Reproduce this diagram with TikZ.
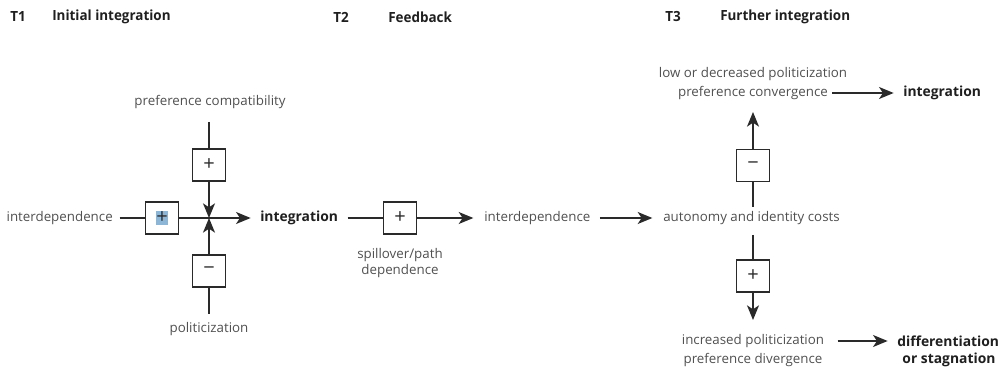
\documentclass[tikz,border=0pt]{standalone}
\usepackage{fontspec}
\setmainfont{Open Sans}
\usepackage{graphicx}
\usetikzlibrary{arrows.meta}
\definecolor{txt}{HTML}{505050}
\definecolor{ln}{HTML}{2A2A2A}
\definecolor{hl}{HTML}{8DB6D6}
\begin{document}
\begin{tikzpicture}[x=0.75pt,y=-0.75pt,
 lbl/.style={text=txt,font=\fontsize{10}{12}\selectfont,inner sep=0pt,align=center},
 blbl/.style={text=black!88,font=\fontsize{10.4}{12}\selectfont\bfseries,inner sep=0pt,align=center},
 hdr/.style={font=\fontsize{10.5}{12}\selectfont\bfseries,text=black!88,anchor=west,inner sep=0pt},
 sbox/.style={draw=ln,line width=0.8pt,fill=white,minimum width=24.5pt,minimum height=24pt,inner sep=0pt,text=ln,font=\fontsize{15}{16}\selectfont},
 conn/.style={draw=ln,line width=1.2pt},
 arr/.style={conn,-{Stealth[length=11pt,width=9pt,inset=3pt]}}]
\useasboundingbox (0,0) rectangle (1000,370);
% headers
\node[hdr] (t1) at (10,17) {\scalebox{0.96}[1]{T1}};
\node[hdr] (h1) at (52,17) {\scalebox{0.96}[1]{Initial integration}};
\node[hdr] (t2) at (333,17) {\scalebox{0.96}[1]{T2}};
\node[hdr] (h2) at (388,17) {\scalebox{0.96}[1]{Feedback}};
\node[hdr] (t3) at (665,17) {\scalebox{0.96}[1]{T3}};
\node[hdr] (h3) at (720,17) {\scalebox{0.96}[1]{Further integration}};
% T1
\node[lbl] (pc) at (210,102) {preference compatibility};
\coordinate (pctop) at (209,122);
\node[sbox] (bp) at (209,165) {+};
\coordinate (j) at (209,218);
\node[sbox] (bm) at (209,271) {−};
\coordinate (pobot) at (209,314);
\node[lbl] (po) at (209,329) {politicization};
\node[lbl,anchor=east] (int1) at (113,218) {interdependence};
\node[sbox] (bl) at (162,218) {\setlength{\fboxsep}{0.5pt}\colorbox{hl}{+}};
\node[blbl,anchor=west] (ig1) at (260,218) {integration};
\draw[conn,shorten <=5pt] (int1) -- (bl);
\draw[conn] (bl) -- (j);
\draw[arr,shorten >=7pt] (j) -- (ig1);
\draw[conn] (pctop) -- (bp);
\draw[arr] (bp) -- (j);
\draw[conn] (pobot) -- (bm);
\draw[arr] (bm) -- (j);
% T2
\node[sbox] (bs) at (400,218) {+};
\node[lbl] (sp) at (400,263) {spillover/path\\dependence};
\node[lbl,anchor=west] (int2) at (484,218) {interdependence};
\draw[conn,shorten <=7pt] (ig1) -- (bs);
\draw[arr,shorten >=8pt] (bs) -- (int2);
% T3
\node[lbl,anchor=west] (ac) at (663,218) {autonomy and identity costs};
\draw[arr,shorten <=7pt,shorten >=8pt] (int2) -- (ac);
\node[lbl] (lo1) at (753,74) {low or decreased politicization};
\node[lbl] (lo2) at (753,93) {preference convergence};
\node[blbl,anchor=west] (ig3) at (903,93) {integration};
\draw[arr,shorten <=3pt,shorten >=7pt] (lo2) -- (ig3);
\coordinate (actop) at (753,207);
\node[sbox] (bu) at (753,165.5) {−};
\coordinate (tipup) at (753,112);
\draw[conn] (actop) -- (bu);
\draw[arr] (bu) -- (tipup);
\coordinate (acbot) at (753,235);
\node[sbox] (bd) at (753,276) {+};
\coordinate (tipdown) at (753,320);
\draw[conn] (acbot) -- (bd);
\draw[arr] (bd) -- (tipdown);
\node[lbl] (ip1) at (753,341) {increased politicization};
\node[lbl] (ip2) at (753,360) {preference divergence};
\node[blbl,anchor=west] (dif1) at (897,341) {differentiation};
\node[blbl] (dif2) at (949,360) {or stagnation};
\draw[arr,shorten <=10pt,shorten >=7pt] (ip1) -- (dif1);
\end{tikzpicture}
\end{document}
